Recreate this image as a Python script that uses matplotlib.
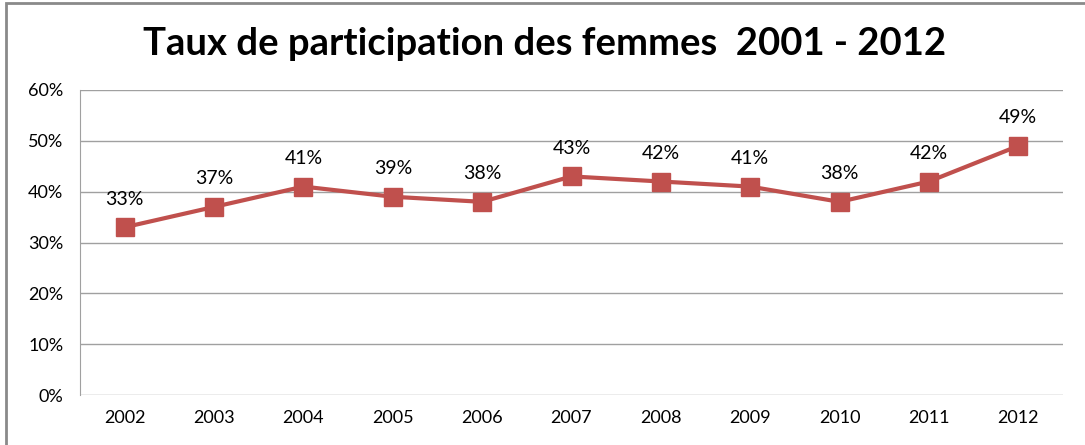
import matplotlib
matplotlib.use("Agg")
import matplotlib.pyplot as plt
import matplotlib.patches as patches
from matplotlib.ticker import FuncFormatter

years = ["2002", "2003", "2004", "2005", "2006", "2007", "2008", "2009", "2010", "2011", "2012"]
taux = [33, 37, 41, 39, 38, 43, 42, 41, 38, 42, 49]
yticks = [0, 10, 20, 30, 40, 50, 60]

titre = "Taux de participation des femmes  2001 - 2012"
couleur = "#C0504D"

plt.rcParams['font.family'] = ['Lato', 'DejaVu Sans']

fig = plt.figure(figsize=(10.85, 4.45), dpi=100)

# cadre du graphique (coupé à droite et en bas comme l'original)
cadre = patches.Rectangle((6 / 1085, -0.05), 1.2, 1 - 3 / 445 + 0.05,
                          transform=fig.transFigure, fill=False,
                          edgecolor="#8a8a8a", linewidth=2)
fig.patches.append(cadre)

ax = fig.add_axes([80 / 1085, 1 - 395 / 445, (1063 - 80) / 1085, (395 - 90) / 445])
x = list(range(len(years)))
ax.plot(x, taux, color=couleur, linewidth=3, marker="s", markersize=13,
        markerfacecolor=couleur, markeredgecolor=couleur, zorder=3)

for xi, v in zip(x, taux):
    ax.annotate(f"{v}%", (xi, v), xytext=(0, 14), textcoords="offset points",
                ha="center", va="bottom", fontsize=14, color="black")

ax.set_xlim(-0.5, len(years) - 0.5)
ax.set_ylim(0, 60)
ax.set_yticks(yticks)
ax.yaxis.set_major_formatter(FuncFormatter(lambda v, p: f"{v:.0f}%"))
ax.set_xticks(x)
ax.set_xticklabels(years)
ax.grid(axis="y", color="#a0a0a0", linewidth=1)
ax.set_axisbelow(True)
for s in ["top", "right", "bottom"]:
    ax.spines[s].set_visible(False)
ax.spines["left"].set_color("#a0a0a0")
ax.tick_params(axis="both", length=0, labelsize=13, colors="black")
ax.tick_params(axis="y", pad=12)
ax.tick_params(axis="x", pad=11)

fig.text(545 / 1085, 1 - 44 / 445, titre, ha="center", va="center",
         fontsize=27.5, fontweight="bold")

plt.savefig("out.png", dpi=100)
